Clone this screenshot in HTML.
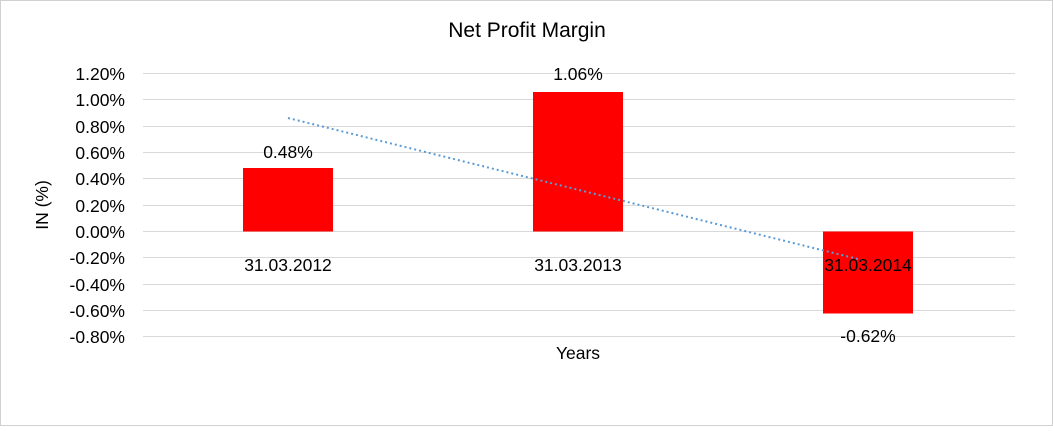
<!DOCTYPE html>
<html><head><style>
body{margin:0;background:#fff}
svg text{font-family:"Liberation Sans",Arial,sans-serif;fill:#000}
</style></head><body>
<svg width="1053" height="426" xmlns="http://www.w3.org/2000/svg">
<rect x="0.5" y="0.5" width="1052" height="425" fill="#fff" stroke="#d0d0d0"/>
<text x="527" y="37" font-size="21" text-anchor="middle">Net Profit Margin</text>
<g stroke="#d9d9d9" stroke-width="1">
<line x1="143" x2="1015" y1="73.5" y2="73.5"/>
<line x1="143" x2="1015" y1="99.5" y2="99.5"/>
<line x1="143" x2="1015" y1="126.5" y2="126.5"/>
<line x1="143" x2="1015" y1="152.5" y2="152.5"/>
<line x1="143" x2="1015" y1="178.5" y2="178.5"/>
<line x1="143" x2="1015" y1="205.5" y2="205.5"/>
<line x1="143" x2="1015" y1="231.5" y2="231.5"/>
<line x1="143" x2="1015" y1="257.5" y2="257.5"/>
<line x1="143" x2="1015" y1="284.5" y2="284.5"/>
<line x1="143" x2="1015" y1="310.5" y2="310.5"/>
<line x1="143" x2="1015" y1="336.5" y2="336.5"/>
</g>
<g font-size="17.5" text-anchor="end">
<text x="125" y="80">1.20%</text>
<text x="125" y="106">1.00%</text>
<text x="125" y="133">0.80%</text>
<text x="125" y="159">0.60%</text>
<text x="125" y="185">0.40%</text>
<text x="125" y="212">0.20%</text>
<text x="125" y="238">0.00%</text>
<text x="125" y="264">-0.20%</text>
<text x="125" y="291">-0.40%</text>
<text x="125" y="317">-0.60%</text>
<text x="125" y="343">-0.80%</text>
</g>
<text transform="translate(48,205) rotate(-90)" font-size="17.5" text-anchor="middle">IN (%)</text>
<rect x="243" y="168" width="90" height="63.5" fill="#ff0000"/>
<rect x="533" y="92" width="90" height="139.5" fill="#ff0000"/>
<rect x="823" y="231.5" width="90" height="82" fill="#ff0000"/>
<line x1="288" y1="118" x2="866" y2="261" stroke="#5b9bd5" stroke-width="2" stroke-dasharray="2,3"/>
<g font-size="17.5" text-anchor="middle">
<text x="288" y="158">0.48%</text>
<text x="578" y="80">1.06%</text>
<text x="868" y="342">-0.62%</text>
<text x="288" y="271">31.03.2012</text>
<text x="578" y="271">31.03.2013</text>
<text x="868" y="271">31.03.2014</text>
<text x="578" y="359">Years</text>
</g>
</svg>
</body></html>
